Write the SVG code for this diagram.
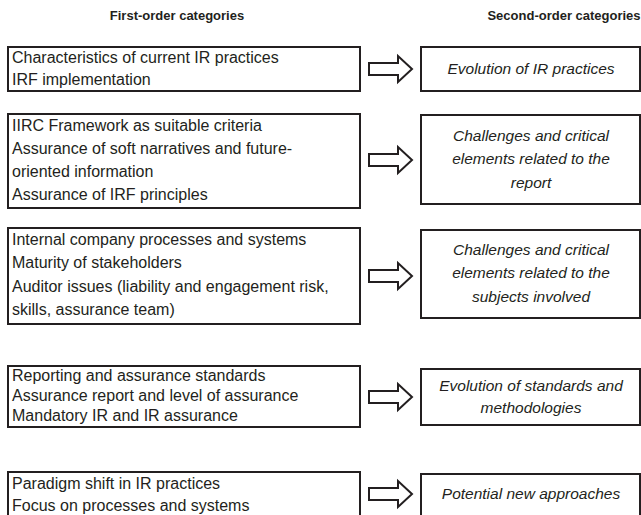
<svg xmlns="http://www.w3.org/2000/svg" width="641" height="515" viewBox="0 0 641 515">
<defs>
<style>
.box{fill:#fff;stroke:#231f20;stroke-width:2}
.t{font-family:"Liberation Sans",Arial,sans-serif;font-size:16px;fill:#231f20}
.i{font-family:"Liberation Sans",Arial,sans-serif;font-size:15.5px;fill:#231f20;font-style:italic;text-anchor:middle}
.h{font-family:"Liberation Sans",Arial,sans-serif;font-size:13px;font-weight:bold;fill:#231f20;text-anchor:middle}
.arr{fill:#fff;stroke:#231f20;stroke-width:2;stroke-linejoin:miter}
</style>
<path id="arrow" class="arr" d="M0,-6 L29,-6 L29,-13 L43,0 L29,13 L29,6 L0,6 Z"/>
</defs>
<rect width="641" height="515" fill="#fff"/>
<text class="h" x="177" y="20">First-order categories</text>
<text class="h" x="564" y="20">Second-order categories</text>

<g id="f1"><rect class="box" x="8" y="47" width="352" height="44"/>
<text class="t" x="12" y="63">Characteristics of current IR practices</text>
<text class="t" x="12" y="85">IRF implementation</text></g>
<g id="s1"><rect class="box" x="421" y="47" width="219" height="44"/>
<text class="i" x="531" y="74">Evolution of IR practices</text></g>

<g id="f2"><rect class="box" x="8" y="114" width="352" height="94"/>
<text class="t" x="12" y="131">IIRC Framework as suitable criteria</text>
<text class="t" x="12" y="154">Assurance of soft narratives and future-</text>
<text class="t" x="12" y="177">oriented information</text>
<text class="t" x="12" y="200">Assurance of IRF principles</text></g>
<g id="s2"><rect class="box" x="421" y="115" width="219" height="89"/>
<text class="i" x="531" y="141">Challenges and critical</text>
<text class="i" x="531" y="164">elements related to the</text>
<text class="i" x="531" y="188">report</text></g>

<g id="f3"><rect class="box" x="8" y="228" width="352" height="96"/>
<text class="t" x="12" y="245">Internal company processes and systems</text>
<text class="t" x="12" y="268">Maturity of stakeholders</text>
<text class="t" x="12" y="292">Auditor issues (liability and engagement risk,</text>
<text class="t" x="12" y="315">skills, assurance team)</text></g>
<g id="s3"><rect class="box" x="421" y="230" width="219" height="88"/>
<text class="i" x="531" y="255">Challenges and critical</text>
<text class="i" x="531" y="278">elements related to the</text>
<text class="i" x="531" y="302">subjects involved</text></g>

<g id="f4"><rect class="box" x="8" y="366" width="352" height="61"/>
<text class="t" x="12" y="381">Reporting and assurance standards</text>
<text class="t" x="12" y="401">Assurance report and level of assurance</text>
<text class="t" x="12" y="421">Mandatory IR and IR assurance</text></g>
<g id="s4"><rect class="box" x="421" y="369" width="219" height="56"/>
<text class="i" x="531" y="391">Evolution of standards and</text>
<text class="i" x="531" y="413">methodologies</text></g>

<g id="f5"><rect class="box" x="8" y="472" width="352" height="50"/>
<text class="t" x="12" y="489">Paradigm shift in IR practices</text>
<text class="t" x="12" y="511">Focus on processes and systems</text></g>
<g id="s5"><rect class="box" x="421" y="474" width="219" height="48"/>
<text class="i" x="531" y="499">Potential new approaches</text></g>

<g id="connectors">
<use href="#arrow" x="369" y="69"/>
<use href="#arrow" x="369" y="160"/>
<use href="#arrow" x="369" y="276"/>
<use href="#arrow" x="369" y="397"/>
<use href="#arrow" x="369" y="494"/>
</g>
</svg>
